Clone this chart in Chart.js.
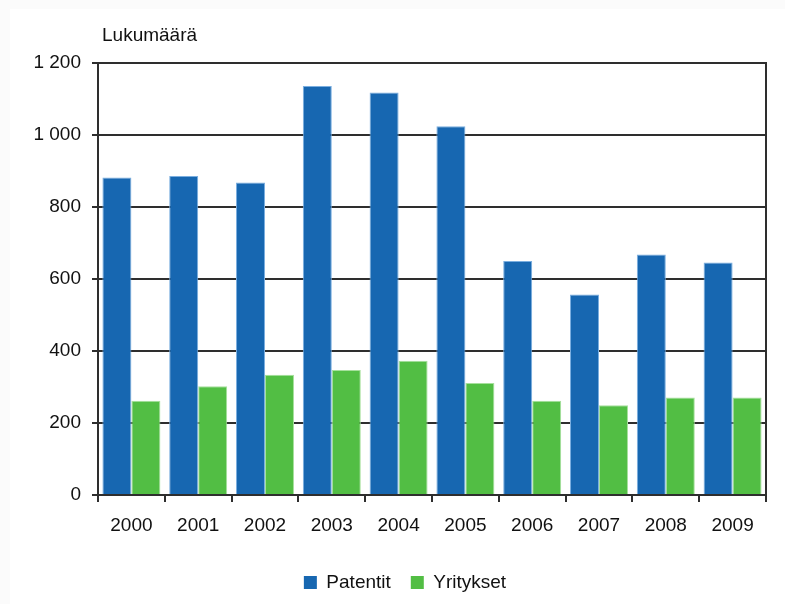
<!DOCTYPE html>
<html>
<head>
<meta charset="utf-8">
<script src="https://cdn.jsdelivr.net/npm/chart.js@4/dist/chart.umd.min.js"></script>
<style>
  html, body { margin: 0; padding: 0; background: #ffffff; }
  #wrap { width: 785px; height: 604px; position: relative; background: #fbfbfb; overflow: hidden; }
  #inner { position: absolute; left: 10px; top: 9px; right: 0; bottom: 0; background: #ffffff; }
  #c { position: absolute; left: 0; top: 0; }
</style>
</head>
<body>
<div id="wrap"><div id="inner"></div><canvas id="c" width="785" height="604"></canvas></div>
<script>
const years = ["2000","2001","2002","2003","2004","2005","2006","2007","2008","2009"];
const patentit = [882, 886, 868, 1136, 1118, 1024, 650, 557, 668, 646];
const yritykset = [262, 302, 334, 347, 373, 311, 262, 249, 271, 271];
const yTicks = [0, 200, 400, 600, 800, 1000, 1200];
const yTitle = "Lukumäärä";

const FONT = "'Liberation Sans', Arial, sans-serif";
const AXIS = '#2e2e2e';

const extras = {
  id: 'extras',
  afterLayout(chart) {
    const lg = chart.legend;
    if (lg) { lg.left += 22; lg.right += 22; }
  },
  afterDraw(chart) {
    const ctx = chart.ctx, a = chart.chartArea;
    ctx.save();
    ctx.strokeStyle = AXIS;
    ctx.lineWidth = 2;
    ctx.beginPath();
    ctx.moveTo(a.right, a.top - 1);
    ctx.lineTo(a.right, a.bottom);
    ctx.stroke();
    ctx.fillStyle = '#111';
    ctx.font = "19px " + FONT;
    ctx.textBaseline = 'middle';
    ctx.textAlign = 'left';
    ctx.fillText(yTitle, a.left + 4, a.top - 27);
    ctx.restore();
  }
};

new Chart(document.getElementById('c'), {
  type: 'bar',
  data: {
    labels: years,
    datasets: [
      { label: 'Patentit', data: patentit, backgroundColor: '#1767b1', borderColor: '#7aaee0', borderWidth: 1 },
      { label: 'Yritykset', data: yritykset, backgroundColor: '#52be44', borderColor: '#a6e09c', borderWidth: 1 }
    ]
  },
  options: {
    responsive: false,
    animation: false,
    devicePixelRatio: 1,
    layout: { padding: { top: 63, right: 19, bottom: 2, left: 0 } },
    datasets: { bar: { categoryPercentage: 0.868, barPercentage: 1.0 } },
    plugins: {
      legend: {
        position: 'bottom',
        labels: {
          font: { family: FONT, size: 19 },
          color: '#111',
          boxWidth: 13,
          boxHeight: 13,
          padding: 20,
          generateLabels(chart) {
            return chart.data.datasets.map((d, i) => ({
              text: d.label, fillStyle: d.backgroundColor, strokeStyle: d.backgroundColor,
              lineWidth: 0, hidden: false, datasetIndex: i, fontColor: '#111'
            }));
          }
        }
      },
      tooltip: { enabled: false },
      title: { display: false }
    },
    scales: {
      x: {
        afterFit(s) { s.height = 58; },
        grid: { offset: true, drawOnChartArea: false, drawTicks: true, tickLength: 7, color: AXIS, lineWidth: 2 },
        border: { display: true, color: AXIS, width: 2 },
        ticks: { font: { family: FONT, size: 19 }, color: '#111', padding: 12, maxRotation: 0 }
      },
      y: {
        min: 0, max: 1200,
        afterFit(s) { s.width = 98; },
        afterBuildTicks(s) { s.ticks = yTicks.map(v => ({ value: v })); },
        grid: { color: AXIS, lineWidth: 2, drawTicks: true, tickLength: 6 },
        border: { display: true, color: AXIS, width: 2 },
        ticks: {
          font: { family: FONT, size: 19 }, color: '#111', padding: 11,
          callback(v) { return String(v).replace(/\B(?=(\d{3})+(?!\d))/g, ' '); }
        }
      }
    }
  },
  plugins: [extras]
});
</script>
</body>
</html>
